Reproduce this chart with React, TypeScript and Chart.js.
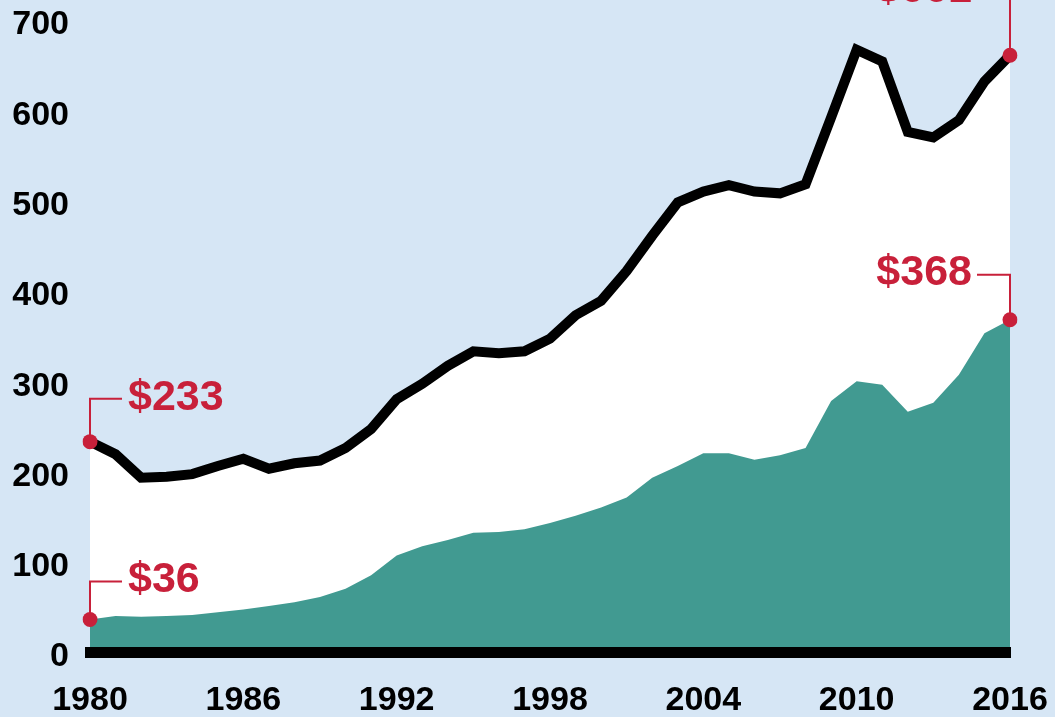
import React, { useEffect, useRef } from 'react';
import { Chart, registerables } from 'chart.js';

Chart.register(...registerables);

// ---- data ----
const years = [
  '1980', '1981', '1982', '1983', '1984', '1985', '1986', '1987', '1988', '1989',
  '1990', '1991', '1992', '1993', '1994', '1995', '1996', '1997', '1998', '1999',
  '2000', '2001', '2002', '2003', '2004', '2005', '2006', '2007', '2008', '2009',
  '2010', '2011', '2012', '2013', '2014', '2015', '2016',
];

const totalSpending = [
  233, 219, 193, 194, 197, 206, 214, 203, 209, 212,
  226, 247, 280, 297, 317, 333, 331, 333, 347, 373,
  389, 422, 461, 498, 510, 517, 510, 508, 518, 592,
  667, 654, 576, 570, 589, 632, 661,
];

const tealSpending = [
  36, 40, 39, 40, 41, 44, 47, 51, 55, 61,
  70, 85, 107, 117, 124, 132, 133, 136, 143, 151,
  160, 171, 193, 206, 220, 220, 213, 218, 226, 278,
  300, 296, 266, 276, 307, 353, 368,
];

const xTickYears = ['1980', '1986', '1992', '1998', '2004', '2010', '2016'];
const yTickValues = [0, 100, 200, 300, 400, 500, 600, 700];

const calloutTexts = ['$233', '$36', '$368', '$661'];

// ---- styles ----
const BG = '#d6e6f5';
const TEAL = '#419a91';
const RED = '#c8203a';
const FONT = '"Liberation Sans", Arial, Helvetica, sans-serif';

// which point each callout belongs to and how it is drawn
const calloutStyle = [
  { dataset: 1, index: 0, side: 'left', rise: 43 },
  { dataset: 0, index: 0, side: 'left', rise: 38 },
  { dataset: 0, index: years.length - 1, side: 'right', rise: 45 },
  { dataset: 1, index: years.length - 1, side: 'right', rise: 63 },
];

const endRadius = (r: number) => years.map((_, i) => (i === 0 || i === years.length - 1 ? r : 0));

const zeroPad = (scale: any) => {
  scale.paddingTop = 0;
  scale.paddingBottom = 0;
  scale.paddingLeft = 0;
  scale.paddingRight = 0;
};

const calloutPlugin = {
  id: 'callouts',
  afterDatasetsDraw(chart: any) {
    const ctx = chart.ctx;
    ctx.save();
    ctx.strokeStyle = RED;
    ctx.fillStyle = RED;
    ctx.lineWidth = 2;
    ctx.font = `bold 43px ${FONT}`;
    ctx.textBaseline = 'alphabetic';
    calloutStyle.forEach((c, k) => {
      const el = chart.getDatasetMeta(c.dataset).data[c.index];
      if (!el) return;
      const px = el.x;
      const py = el.y;
      const cy = py - c.rise;
      ctx.beginPath();
      if (c.side === 'left') {
        ctx.moveTo(px, py);
        ctx.lineTo(px, cy);
        ctx.lineTo(px + 32, cy);
        ctx.stroke();
        ctx.textAlign = 'left';
        ctx.fillText(calloutTexts[k], px + 38, cy + 11);
      } else {
        ctx.moveTo(px, py);
        ctx.lineTo(px, cy);
        ctx.lineTo(px - 33, cy);
        ctx.stroke();
        ctx.textAlign = 'right';
        ctx.fillText(calloutTexts[k], px - 38, cy + 10);
      }
    });
    ctx.restore();
  },
};

export default function App() {
  const canvasRef = useRef<HTMLCanvasElement | null>(null);

  useEffect(() => {
    if (!canvasRef.current) return;
    const chart = new Chart(canvasRef.current, {
      type: 'line',
      data: {
        labels: years,
        datasets: [
          {
            label: 'Teal share',
            data: tealSpending,
            fill: 'origin',
            backgroundColor: TEAL,
            borderColor: 'rgba(0,0,0,0)',
            borderWidth: 0,
            tension: 0,
            pointRadius: endRadius(7.5),
            pointBackgroundColor: RED,
            pointBorderWidth: 0,
          },
          {
            label: 'Total',
            data: totalSpending,
            fill: 'origin',
            backgroundColor: '#ffffff',
            borderColor: '#000000',
            borderWidth: 10,
            borderJoinStyle: 'miter',
            borderCapStyle: 'butt',
            tension: 0,
            pointRadius: endRadius(7.5),
            pointBackgroundColor: RED,
            pointBorderWidth: 0,
          },
        ],
      },
      options: {
        animation: false,
        responsive: false,
        devicePixelRatio: 1,
        events: [],
        layout: { padding: { top: 20, right: 45, left: 0, bottom: 0 } },
        plugins: {
          legend: { display: false },
          tooltip: { enabled: false },
          title: { display: false },
        },
        scales: {
          x: {
            type: 'category',
            grid: { display: false, drawTicks: false },
            border: { display: true, color: '#000000', width: 11, z: 1 },
            ticks: {
              autoSkip: false,
              maxRotation: 0,
              minRotation: 0,
              padding: 32,
              color: '#000000',
              font: { family: FONT, size: 34, weight: 'bold', lineHeight: 1 },
              callback: (_v: any, i: number) => (xTickYears.includes(years[i]) ? years[i] : ''),
            },
            afterFit: (scale: any) => {
              scale.height = 65;
              zeroPad(scale);
            },
          },
          y: {
            min: 0,
            max: 700,
            grid: { display: false, drawTicks: false },
            border: { display: false },
            afterBuildTicks: (scale: any) => {
              scale.ticks = yTickValues.map((v) => ({ value: v }));
            },
            ticks: {
              padding: 21,
              labelOffset: 5,
              color: '#000000',
              font: { family: FONT, size: 34, weight: 'bold', lineHeight: 1 },
            },
            afterFit: (scale: any) => {
              scale.width = 90;
              zeroPad(scale);
            },
          },
        },
      },
      plugins: [calloutPlugin],
    } as any);
    return () => chart.destroy();
  }, []);

  return (
    <div
      style={{
        position: 'fixed',
        left: 0,
        top: 0,
        width: 1055,
        height: 717,
        background: BG,
        overflow: 'hidden',
      }}
    >
      <canvas ref={canvasRef} width={1055} height={717} style={{ display: 'block' }} />
    </div>
  );
}
